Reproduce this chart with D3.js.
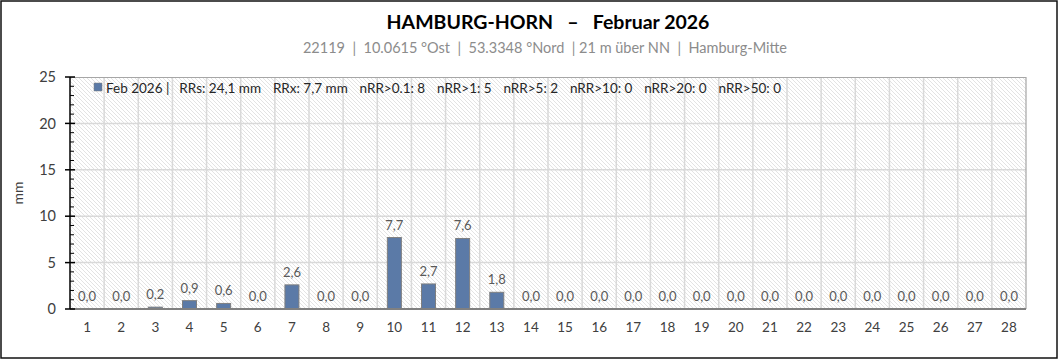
<!DOCTYPE html>
<html>
<head>
  <title></title>
  <script src="https://d3js.org/d3.v7.min.js"></script>
  <style>
    body { margin: 0; background: #fff; }
    text { font-family: Lato, "Open Sans", sans-serif; }
  </style>
</head>
<body>
<script type="text/javascript">
// data
var days = d3.range(1, 29).map(String);
var rain = [0, 0, 0.2, 0.9, 0.6, 0, 2.6, 0, 0, 7.7, 2.7, 7.6, 1.8,
            0, 0, 0, 0, 0, 0, 0, 0, 0, 0, 0, 0, 0, 0, 0];
var yTicks = [0, 5, 10, 15, 20, 25];
var legendItems = ["Feb 2026 |", "RRs: 24,1 mm", "RRx: 7,7 mm", "nRR>0.1: 8", "nRR>1: 5",
                   "nRR>5: 2", "nRR>10: 0", "nRR>20: 0", "nRR>50: 0"];
var title = "HAMBURG-HORN   \u2013   Februar 2026";
var subtitle = "22119  |  10.0615 \u00B0Ost  |  53.3348 \u00B0Nord  | 21 m \u00FCber NN  |  Hamburg-Mitte";

var W = 1059, H = 360;
var margin = {top: 77, right: 33, bottom: 51, left: 70},
    width = W - margin.left - margin.right,
    height = H - margin.top - margin.bottom;

var svg = d3.select("body").append("svg")
    .attr("width", W).attr("height", H);

// hatch pattern
var defs = svg.append("defs");
defs.append("pattern")
    .attr("id", "hatch")
    .attr("patternUnits", "userSpaceOnUse")
    .attr("width", 4).attr("height", 4)
    .append("path")
    .attr("d", "M-1,-1 l6,6 M-1,3 l2,2 M3,-1 l2,2")
    .attr("stroke", "#dcdcdc")
    .attr("stroke-width", 0.8);

// outer frame
svg.append("rect")
    .attr("x", 1).attr("y", 1)
    .attr("width", W - 3).attr("height", H - 3)
    .attr("fill", "#fff")
    .attr("stroke", "#111")
    .attr("stroke-width", 1.5);

// titles
svg.append("text")
    .attr("x", 548).attr("y", 29)
    .attr("text-anchor", "middle")
    .style("font-size", "19.5px").style("font-weight", "bold")
    .style("white-space", "pre")
    .attr("fill", "#000")
    .text(title);
svg.append("text")
    .attr("x", 545).attr("y", 53)
    .attr("text-anchor", "middle")
    .style("font-size", "14.5px")
    .style("white-space", "pre")
    .attr("fill", "#8c8c8c")
    .text(subtitle);

var x = d3.scaleBand().domain(days).range([0, width]).paddingInner(0.59).paddingOuter(0.295);
var xb = d3.scaleBand().domain(days).range([0, width]);
var y = d3.scaleLinear().domain([0, 25]).range([height, 0]);

var g = svg.append("g")
    .attr("transform", "translate(" + margin.left + "," + margin.top + ")");

// plot background
g.append("rect")
    .attr("width", width).attr("height", height)
    .attr("fill", "url(#hatch)");

// grid
g.selectAll(".hgrid")
    .data(yTicks.filter(function(d){ return d > 0 && d < 25; }))
    .enter().append("line")
    .attr("x1", 0).attr("x2", width)
    .attr("y1", function(d){ return y(d); })
    .attr("y2", function(d){ return y(d); })
    .attr("stroke", "#d9d9d9").attr("stroke-width", 1.5);
g.selectAll(".vgrid")
    .data(days.slice(1))
    .enter().append("line")
    .attr("x1", function(d){ return xb(d); })
    .attr("x2", function(d){ return xb(d); })
    .attr("y1", 0).attr("y2", height)
    .attr("stroke", "#d9d9d9").attr("stroke-width", 1.5);

// plot border (top/right)
g.append("path")
    .attr("d", "M0,0.5H" + width + "V" + height)
    .attr("fill", "none")
    .attr("stroke", "#a6a6a6").attr("stroke-width", 1.2);

// bars
g.selectAll(".bar")
    .data(rain)
    .enter().append("rect")
    .attr("x", function(d, i){ return x(days[i]); })
    .attr("width", x.bandwidth())
    .attr("y", function(d){ return y(d); })
    .attr("height", function(d){ return height - y(d); })
    .attr("fill", "#5b7aa7")
    .attr("stroke", "#7f7f7f")
    .attr("stroke-width", 1);

// value labels
g.selectAll(".val")
    .data(rain)
    .enter().append("text")
    .attr("x", function(d, i){ return xb(days[i]) + xb.bandwidth() / 2; })
    .attr("y", function(d){ return y(d) - 8; })
    .attr("text-anchor", "middle")
    .style("font-size", "13px")
    .attr("fill", "#595959")
    .text(function(d){ return d.toFixed(1).replace(".", ","); });

// x axis
g.append("line")
    .attr("x1", 0).attr("x2", width)
    .attr("y1", height).attr("y2", height)
    .attr("stroke", "#808080").attr("stroke-width", 2);
g.selectAll(".xlab")
    .data(days)
    .enter().append("text")
    .attr("x", function(d){ return xb(d) + xb.bandwidth() / 2; })
    .attr("y", height + 23)
    .attr("text-anchor", "middle")
    .style("font-size", "13.5px")
    .attr("fill", "#404040")
    .text(function(d){ return d; });

// y axis
var yAxis = d3.axisLeft(y).tickValues(yTicks).tickSize(0).tickPadding(14);
var ya = g.append("g").call(yAxis);
ya.select(".domain").remove();
ya.selectAll("text")
    .style("font-family", "Lato, 'Open Sans', sans-serif")
    .style("font-size", "14.5px")
    .attr("fill", "#404040");
g.selectAll(".ymaj")
    .data(yTicks)
    .enter().append("line")
    .attr("x1", -5).attr("x2", 5)
    .attr("y1", function(d){ return y(d); })
    .attr("y2", function(d){ return y(d); })
    .attr("stroke", "#000").attr("stroke-width", 1.5);
g.selectAll(".ymin")
    .data(d3.range(0, 26).filter(function(d){ return d % 5 !== 0; }))
    .enter().append("line")
    .attr("x1", 0).attr("x2", 4)
    .attr("y1", function(d){ return y(d); })
    .attr("y2", function(d){ return y(d); })
    .attr("stroke", "#000").attr("stroke-width", 1);
g.append("line")
    .attr("x1", 0).attr("x2", 0)
    .attr("y1", 0).attr("y2", height)
    .attr("stroke", "#000").attr("stroke-width", 1.5);

// y title
svg.append("text")
    .attr("transform", "translate(23," + (margin.top + height / 2) + ") rotate(-90)")
    .attr("text-anchor", "middle")
    .style("font-size", "14px")
    .attr("fill", "#404040")
    .text("mm");

// legend
var leg = g.append("g").attr("transform", "translate(24,11)");
leg.append("rect")
    .attr("x", 0).attr("y", -5)
    .attr("width", 8).attr("height", 8)
    .attr("fill", "#5b7aa7")
    .attr("stroke", "#7f7f7f").attr("stroke-width", 0.5);
var lx = 12;
legendItems.forEach(function(t, i){
  var tt = leg.append("text")
      .attr("x", lx).attr("y", 4.5)
      .style("font-size", "13.5px")
      .attr("fill", "#262626")
      .text(t);
  lx += tt.node().getComputedTextLength() + (i === 0 ? 10 : 11.8);
});
</script>
</body>
</html>
